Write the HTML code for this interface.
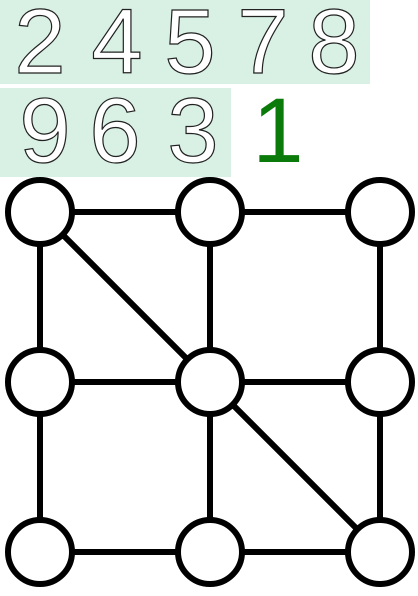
<!DOCTYPE html>
<html><head><meta charset="utf-8"><style>
body{margin:0;width:418px;height:596px;background:#fff;overflow:hidden;position:relative;font-family:"Liberation Sans",sans-serif}
.bg{position:absolute;background:#d9f0e4}
.d{position:absolute;font-size:92px;line-height:1;color:#fff;-webkit-text-stroke:1.2px #222;transform:translateX(-50%)}
</style></head><body>
<div class="bg" style="left:0;top:0;width:370px;height:84px"></div>
<div class="bg" style="left:0;top:88px;width:231px;height:89px"></div>
<div class="d" style="left:40px;top:-4px">2</div>
<div class="d" style="left:117px;top:-4px">4</div>
<div class="d" style="left:190px;top:-4px">5</div>
<div class="d" style="left:263px;top:-4px">7</div>
<div class="d" style="left:334px;top:-4px">8</div>
<div class="d" style="left:45px;top:85px">9</div>
<div class="d" style="left:115px;top:85px">6</div>
<div class="d" style="left:193px;top:85px">3</div>
<div class="d" style="left:278px;top:85px;color:#0a7a0a;-webkit-text-stroke:0">1</div>
<svg width="418" height="596" style="position:absolute;left:0;top:0">
<g stroke="#000" stroke-width="6" fill="none">
<line x1="40" y1="212" x2="380" y2="212"/><line x1="40" y1="382" x2="380" y2="382"/><line x1="40" y1="552" x2="380" y2="552"/>
<line x1="40" y1="212" x2="40" y2="552"/><line x1="210" y1="212" x2="210" y2="552"/><line x1="380" y1="212" x2="380" y2="552"/>
<line x1="40" y1="212" x2="380" y2="552"/>
</g>
<g stroke="#000" stroke-width="6" fill="#fff">
<circle cx="40" cy="212" r="32"/>
<circle cx="210" cy="212" r="32"/>
<circle cx="380" cy="212" r="32"/>
<circle cx="40" cy="382" r="32"/>
<circle cx="210" cy="382" r="32"/>
<circle cx="380" cy="382" r="32"/>
<circle cx="40" cy="552" r="32"/>
<circle cx="210" cy="552" r="32"/>
<circle cx="380" cy="552" r="32"/>
</g>
</svg>
</body></html>
